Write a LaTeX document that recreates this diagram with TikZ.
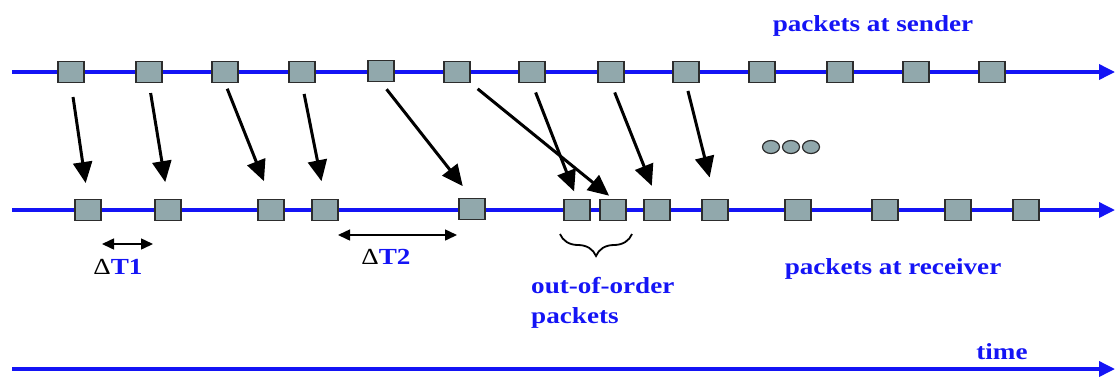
\documentclass[tikz,border=0pt]{standalone}
\usepackage{fontspec}
\setmainfont{Liberation Serif}
\newfontfamily\lblfont[FakeStretch=1.18]{Liberation Serif}
\usetikzlibrary{arrows.meta,decorations.pathreplacing,shapes.geometric}
\definecolor{pblue}{RGB}{20,20,245}
\definecolor{pgray}{RGB}{145,168,172}
\definecolor{pedge}{RGB}{45,45,45}
\begin{document}
\begin{tikzpicture}[x=1pt,y=-1pt,
  pkt/.style={draw=pedge,fill=pgray,line width=1.3pt,minimum width=26pt,minimum height=21pt,inner sep=0pt},
  timeline/.style={draw=pblue,line width=3.5pt,-{Triangle[length=16pt,width=15pt]}},
  flight/.style={draw=black,line width=3pt,-{Triangle[length=21pt,width=19pt]}},
  lbl/.style={text=pblue,font=\lblfont\bfseries\fontsize{23}{30}\selectfont,inner sep=0pt},
  span/.style={line width=1.5pt,{Triangle[length=12pt,width=11pt]}-{Triangle[length=12pt,width=11pt]}},
  dotpkt/.style={ellipse,draw=pedge,fill=pgray,line width=1.2pt,minimum width=17pt,minimum height=13pt,inner sep=0pt},
  bracestyle/.style={line width=1.8pt,decorate,decoration={brace,amplitude=22pt,mirror}}]
\useasboundingbox (0,0) rectangle (1115,376);
% time lines
\coordinate (sL) at (12,72);  \coordinate (sR) at (1115,72);
\coordinate (rL) at (12,210); \coordinate (rR) at (1115,210);
\coordinate (tL) at (12,369); \coordinate (tR) at (1115,369);
\draw[timeline] (sL) -- (sR);
\draw[timeline] (rL) -- (rR);
\draw[timeline] (tL) -- (tR);
% sender packets
\node[pkt] (t1) at (71,72) {};
\node[pkt] (t2) at (149,72) {};
\node[pkt] (t3) at (225,72) {};
\node[pkt] (t4) at (302,72) {};
\node[pkt] (t5) at (381,71) {};
\node[pkt] (t6) at (457,72) {};
\node[pkt] (t7) at (532,72) {};
\node[pkt] (t8) at (611,72) {};
\node[pkt] (t9) at (686,72) {};
\node[pkt] (t10) at (762,72) {};
\node[pkt] (t11) at (840,72) {};
\node[pkt] (t12) at (916,72) {};
\node[pkt] (t13) at (992,72) {};
% receiver packets
\node[pkt] (b1) at (88,210) {};
\node[pkt] (b2) at (168,210) {};
\node[pkt] (b3) at (271,210) {};
\node[pkt] (b4) at (325,210) {};
\node[pkt] (b5) at (472,209) {};
\node[pkt] (b6) at (577,210) {};
\node[pkt] (b7) at (613,210) {};
\node[pkt] (b8) at (657,210) {};
\node[pkt] (b9) at (715,210) {};
\node[pkt] (b10) at (798,210) {};
\node[pkt] (b11) at (885,210) {};
\node[pkt] (b12) at (958,210) {};
\node[pkt] (b13) at (1026,210) {};
% flights
\draw[flight,shorten <=14pt,shorten >=16pt] (t1.south) -- (b1.north);
\draw[flight,shorten <=10pt,shorten >=17pt] (t2.south) -- (b2.north);
\draw[flight,shorten <=6pt,shorten >=19pt] (t3.south) -- (b3.north);
\draw[flight,shorten <=11pt,shorten >=18pt] (t4.south) -- (b4.north);
\draw[flight,shorten <=9pt,shorten >=15pt] (t5.south) -- (b5.north);
\draw[flight,shorten <=9pt,shorten >=5pt] (t6.south east) -- (b7.north);
\draw[flight,shorten <=10pt,shorten >=8pt] (t7.south) -- (b6.north);
\draw[flight,shorten <=10pt,shorten >=14pt] (t8.south) -- (b8.north);
\draw[flight,shorten <=8pt,shorten >=22pt] (t9.south) -- (b9.north);
% dots
\node[dotpkt] (e1) at (771,147) {};
\node[dotpkt] (e2) at (791,147) {};
\node[dotpkt] (e3) at (811,147) {};
% spans
\coordinate (d1l) at (102,244); \coordinate (d1r) at (153,244);
\coordinate (d2l) at (338,235); \coordinate (d2r) at (457,235);
\draw[span] (d1l) -- (d1r);
\draw[span] (d2l) -- (d2r);
\node[lbl] (dt1) at (118,267) {{\color{black}\mdseries Δ}T1};
\node[lbl] (dt2) at (386,257) {{\color{black}\mdseries Δ}T2};
% brace
\coordinate (bl) at (560,234); \coordinate (br) at (632,234);
\draw[bracestyle] (bl) -- (br);
% labels
\node[lbl] (snd) at (873,26) {packets at sender};
\node[lbl] (rcv) at (893,269) {packets at receiver};
\node[lbl] (tim) at (1002,352) {time};
\node[lbl,align=left,anchor=west] (ooo) at (531,303) {out-of-order\\packets};
\end{tikzpicture}
\end{document}
